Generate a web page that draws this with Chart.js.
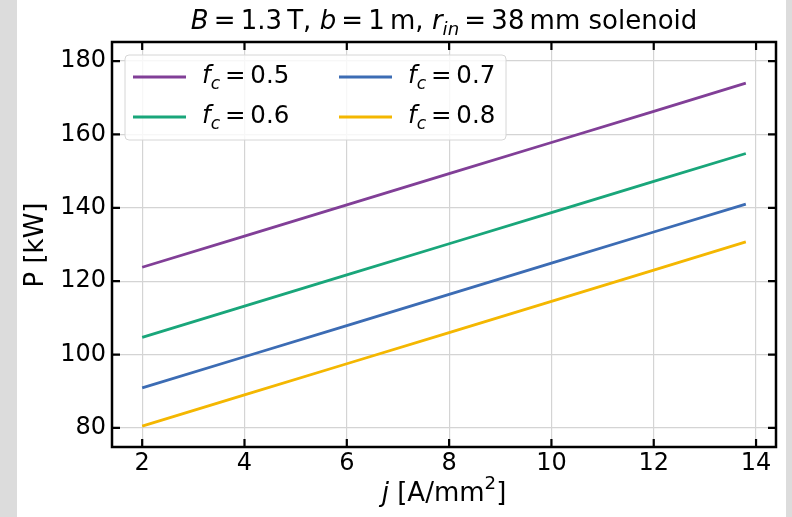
<!DOCTYPE html>
<html>
<head>
<meta charset="utf-8">
<title>Solenoid power</title>
<script src="https://cdn.jsdelivr.net/npm/chart.js"></script>
<style>
  html, body { margin: 0; padding: 0; background: #fff; }
  #wrap { width: 792px; height: 517px; }
</style>
</head>
<body>
<div id="wrap"><canvas id="chart" width="792" height="517"></canvas></div>
<script>
// data
const jValues = [2, 4, 6, 8, 10, 12, 13.8];
const fcLabels = ['0.5', '0.6', '0.7', '0.8'];
const p05 = [123.8, 132.3, 140.8, 149.3, 157.8, 166.3, 174.0];
const p06 = [104.7, 113.2, 121.7, 130.2, 138.7, 147.2, 154.8];
const p07 = [90.9, 99.4, 107.9, 116.4, 124.9, 133.4, 141.0];
const p08 = [80.5, 89.0, 97.5, 106.0, 114.5, 123.0, 130.7];
const xTicks = [2, 4, 6, 8, 10, 12, 14];
const yTicks = [80, 100, 120, 140, 160, 180];

const colors = ['#813f97', '#19a67a', '#3c6cb4', '#f4b701'];
const series = [p05, p06, p07, p08];
const FONT = '"DejaVu Sans", sans-serif';

// text made of parts: {t, it, sub, sup}
function richWidth(ctx, parts, size) {
    let w = 0;
    parts.forEach(p => {
        const s = (p.sub || p.sup) ? size * 0.7 : size;
        ctx.font = (p.it ? 'italic ' : '') + s + 'px ' + FONT;
        w += ctx.measureText(p.t).width;
    });
    return w;
}
function richText(ctx, parts, x, y, size, align) {
    let w = richWidth(ctx, parts, size);
    let cx = align === 'center' ? x - w / 2 : x;
    ctx.textBaseline = 'middle';
    ctx.textAlign = 'left';
    ctx.fillStyle = '#000';
    parts.forEach(p => {
        const s = (p.sub || p.sup) ? size * 0.7 : size;
        ctx.font = (p.it ? 'italic ' : '') + s + 'px ' + FONT;
        let dy = p.sub ? size * 0.3 : (p.sup ? -size * 0.38 : 0);
        ctx.fillText(p.t, cx, y + dy);
        cx += ctx.measureText(p.t).width;
    });
}

const decor = {
    id: 'decor',
    beforeDraw(chart) {
        const ctx = chart.ctx;
        ctx.save();
        ctx.fillStyle = '#dcdcdc';
        ctx.fillRect(0, 0, 17, 517);
        ctx.fillRect(786, 0, 6, 517);
        ctx.restore();
    },
    afterDatasetsDraw(chart) {
        const ctx = chart.ctx;
        const a = chart.chartArea;
        const xs = chart.scales.x, ys = chart.scales.y;
        ctx.save();

        // legend
        const lx = 125, ly = 55, lw = 381, lh = 85;
        ctx.beginPath();
        ctx.roundRect(lx, ly, lw, lh, 4);
        ctx.fillStyle = 'rgba(255,255,255,0.8)';
        ctx.fill();
        ctx.strokeStyle = '#d6d6d6';
        ctx.lineWidth = 1;
        ctx.stroke();
        const cols = [133, 339], rows = [77, 117];
        fcLabels.forEach((lab, i) => {
            const c = cols[Math.floor(i / 2)], r = rows[i % 2];
            ctx.strokeStyle = colors[i];
            ctx.lineWidth = 2.8;
            ctx.beginPath();
            ctx.moveTo(c, r);
            ctx.lineTo(c + 53, r);
            ctx.stroke();
            richText(ctx, [{t: 'f', it: true}, {t: 'c', it: true, sub: true}, {t: '\u2009=\u2009' + lab}], c + 69, r, 24.5, 'left');
        });

        // frame
        ctx.strokeStyle = '#000';
        ctx.lineWidth = 2.5;
        ctx.strokeRect(a.left, a.top, a.right - a.left, a.bottom - a.top);

        // inward ticks on every side
        ctx.lineWidth = 2.2;
        ctx.beginPath();
        xTicks.forEach(v => {
            const px = xs.getPixelForValue(v);
            ctx.moveTo(px, a.bottom); ctx.lineTo(px, a.bottom - 8);
            ctx.moveTo(px, a.top); ctx.lineTo(px, a.top + 8);
        });
        yTicks.forEach(v => {
            const py = ys.getPixelForValue(v);
            ctx.moveTo(a.left, py); ctx.lineTo(a.left + 8, py);
            ctx.moveTo(a.right, py); ctx.lineTo(a.right - 8, py);
        });
        ctx.stroke();

        // title and axis labels
        richText(ctx, [{t: 'B', it: true}, {t: '\u2009=\u20091.3\u2009T, '}, {t: 'b', it: true}, {t: '\u2009=\u20091\u2009m, '},
            {t: 'r', it: true}, {t: 'in', it: true, sub: true}, {t: '\u2009=\u200938\u2009mm solenoid'}], 444, 22, 26, 'center');
        richText(ctx, [{t: 'j', it: true}, {t: ' [A/mm'}, {t: '2', sup: true}, {t: ']'}], 444, 494, 26, 'center');
        ctx.translate(36, 245);
        ctx.rotate(-Math.PI / 2);
        richText(ctx, [{t: 'P [kW]'}], 0, 0, 26, 'center');
        ctx.restore();
    }
};

new Chart(document.getElementById('chart'), {
    type: 'line',
    data: {
        datasets: series.map((s, i) => ({
            label: 'fc = ' + fcLabels[i],
            data: jValues.map((x, k) => ({x: x, y: s[k]})),
            borderColor: colors[i],
            borderWidth: 2.8,
            pointRadius: 0,
            tension: 0
        }))
    },
    options: {
        responsive: false,
        animation: false,
        layout: { padding: { left: 0, top: 42, right: 16, bottom: 0 } },
        plugins: { legend: { display: false }, tooltip: { enabled: false } },
        scales: {
            x: {
                type: 'linear', min: 1.41, max: 14.39,
                afterBuildTicks: sc => { sc.ticks = xTicks.map(v => ({value: v})); },
                afterFit: sc => { sc.height = 70; },
                grid: { color: '#d4d4d4', lineWidth: 1.2, drawTicks: false },
                border: { display: false },
                ticks: { color: '#000', font: { family: FONT, size: 24 }, padding: 2, maxRotation: 0 }
            },
            y: {
                type: 'linear', min: 74.8, max: 185.2,
                afterBuildTicks: sc => { sc.ticks = yTicks.map(v => ({value: v})); },
                afterFit: sc => { sc.width = 112; },
                grid: { color: '#d4d4d4', lineWidth: 1.2, drawTicks: false },
                border: { display: false },
                ticks: { color: '#000', font: { family: FONT, size: 24 }, padding: 6 }
            }
        }
    },
    plugins: [decor]
});
</script>
</body>
</html>
